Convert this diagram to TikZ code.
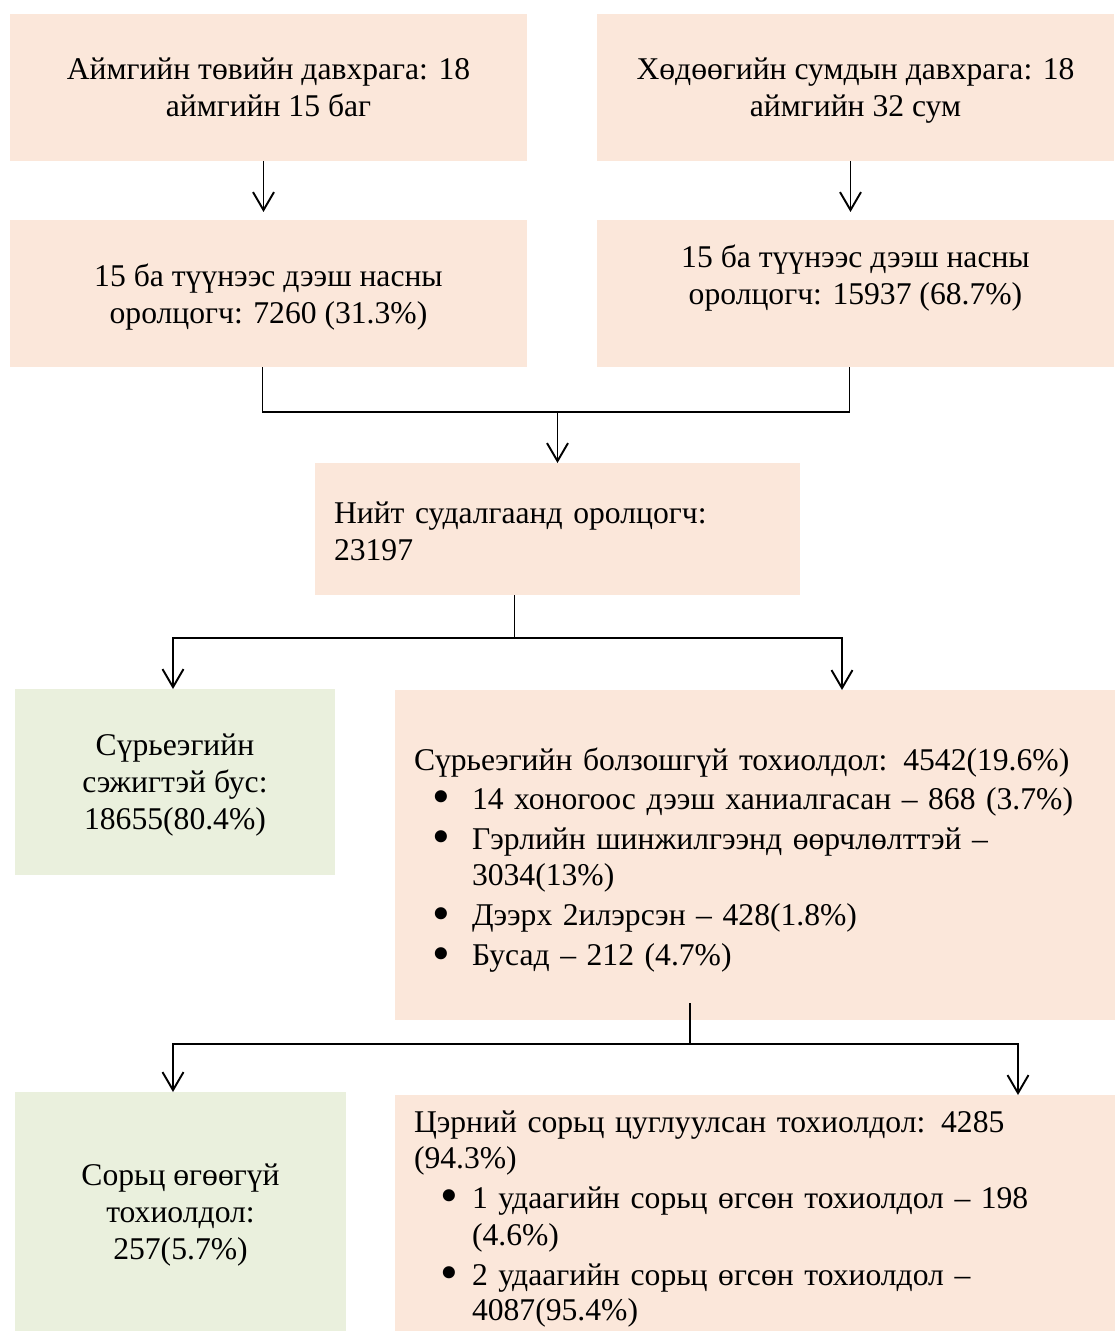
\documentclass[tikz,border=0pt]{standalone}
\usepackage{fontspec}
\setmainfont{Liberation Serif}
\usetikzlibrary{arrows.meta,positioning}
\definecolor{colorPeach}{HTML}{FBE7DA}
\definecolor{colorGreen}{HTML}{EAF0DD}
\newcommand{\itm}[1]{\hspace*{#1}\makebox[\dimexpr1.16cm-#1\relax][l]{\raisebox{-0.09cm}{\scalebox{1.6}{\textbullet}}}}
\newcommand{\cont}{\hspace*{1.16cm}}
\newcommand{\topstrut}{\rule{0pt}{0.74cm}}
\newcommand{\botstrut}{\rule[-0.22cm]{0pt}{0.22cm}}

\begin{document}
\begin{tikzpicture}[node distance=1.18cm and 1.4cm,>={Straight Barb[length=0.36cm,width=0.42cm]},line width=1.1pt,every node/.append style={font=\fontsize{18pt}{21pt}\selectfont,inner sep=0pt,outer sep=0pt},box/.style={fill=colorPeach, minimum width=10.34cm, minimum height=2.94cm, align=center, text depth=0pt},wide/.style={fill=colorPeach, inner xsep=0.38cm, align=left, execute at begin node=\topstrut, execute at end node=\botstrut},sbox/.style={fill=colorGreen, align=center, text depth=0pt},]
    \useasboundingbox (0,0) rectangle (22.3,-26.62);
    \node [box] (A1) at (5.37,-1.75) {Аймгийн төвийн давхрага: 18\\аймгийн 15 баг};
    \node [box, right=of A1] (A2) {Хөдөөгийн сумдын давхрага: 18\\аймгийн 32 сум};
    \node [box, below=of A1] (B1) {15 ба түүнээс дээш насны\\оролцогч: 7260 (31.3\%)};
    \node [box, below=of A2, text depth=0.74cm] (B2) {15 ба түүнээс дээш насны\\оролцогч: 15937 (68.7\%)};
    \node [wide, text width=8.94cm, minimum height=2.64cm] (C) at (11.15,-10.58) {Нийт судалгаанд оролцогч:\\23197};
    \node [sbox, minimum width=6.4cm, minimum height=3.72cm] (D1) at (3.5,-15.64) {Сүрьеэгийн\\сэжигтэй бус:\\18655(80.4\%)};
    \node [wide, text width=13.64cm, minimum height=6.6cm] (D2) at (15.1,-17.1) {Сүрьеэгийн болзошгүй тохиолдол: 4542(19.6\%)\\[0.04cm]
      \itm{0.36cm}14 хоногоос дээш ханиалгасан – 868 (3.7\%)\\[0.06cm]
      \itm{0.36cm}Гэрлийн шинжилгээнд өөрчлөлттэй –\\
      \cont 3034(13\%)\\[0.06cm]
      \itm{0.36cm}Дээрх 2илэрсэн – 428(1.8\%)\\[0.06cm]
      \itm{0.36cm}Бусад – 212 (4.7\%)};
    \node [sbox, minimum width=6.62cm, minimum height=4.78cm, text depth=-0.14cm] (E1) at (3.61,-24.23) {Сорьц өгөөгүй\\тохиолдол:\\257(5.7\%)};
    \node [wide, text width=13.64cm, minimum height=4.72cm] (E2) at (15.1,-24.26) {Цэрний сорьц цуглуулсан тохиолдол: 4285\\
      (94.3\%)\\[0.05cm]
      \itm{0.52cm}1 удаагийн сорьц өгсөн тохиолдол – 198\\
      \cont(4.6\%)\\[0.06cm]
      \itm{0.52cm}2 удаагийн сорьц өгсөн тохиолдол –\\[-0.04cm]
      \cont 4087(95.4\%)};
    \draw[->, shorten >=0.16cm] ([xshift=-0.1cm]A1.south) -- ([xshift=-0.1cm]A1.south |- B1.north);
    \draw[->, shorten >=0.16cm] ([xshift=-0.1cm]A2.south) -- ([xshift=-0.1cm]A2.south |- B2.north);
    \coordinate (m1) at ([yshift=1.02cm]C.north);
    \draw ([xshift=-0.12cm]B1.south) |- (m1) -| ([xshift=-0.12cm]B2.south);
    \draw[->] (m1) -- (C.north);
    \coordinate (s1) at ([xshift=-0.86cm,yshift=-0.86cm]C.south);
    \draw ([xshift=-0.86cm]C.south) -- (s1);
    \draw[->] (s1) -| ([xshift=-0.04cm]D1.north);
    \draw[->] (s1) -| ([xshift=1.74cm]D2.north);
    \coordinate (s2) at ([xshift=-1.3cm,yshift=-0.48cm]D2.south);
    \draw ([xshift=-1.3cm,yshift=0.34cm]D2.south) -- (s2);
    \draw[->] (s2) -| ([xshift=-0.15cm]E1.north);
    \draw[->] (s2) -| ([xshift=5.26cm]E2.north);
\end{tikzpicture}
\end{document}
